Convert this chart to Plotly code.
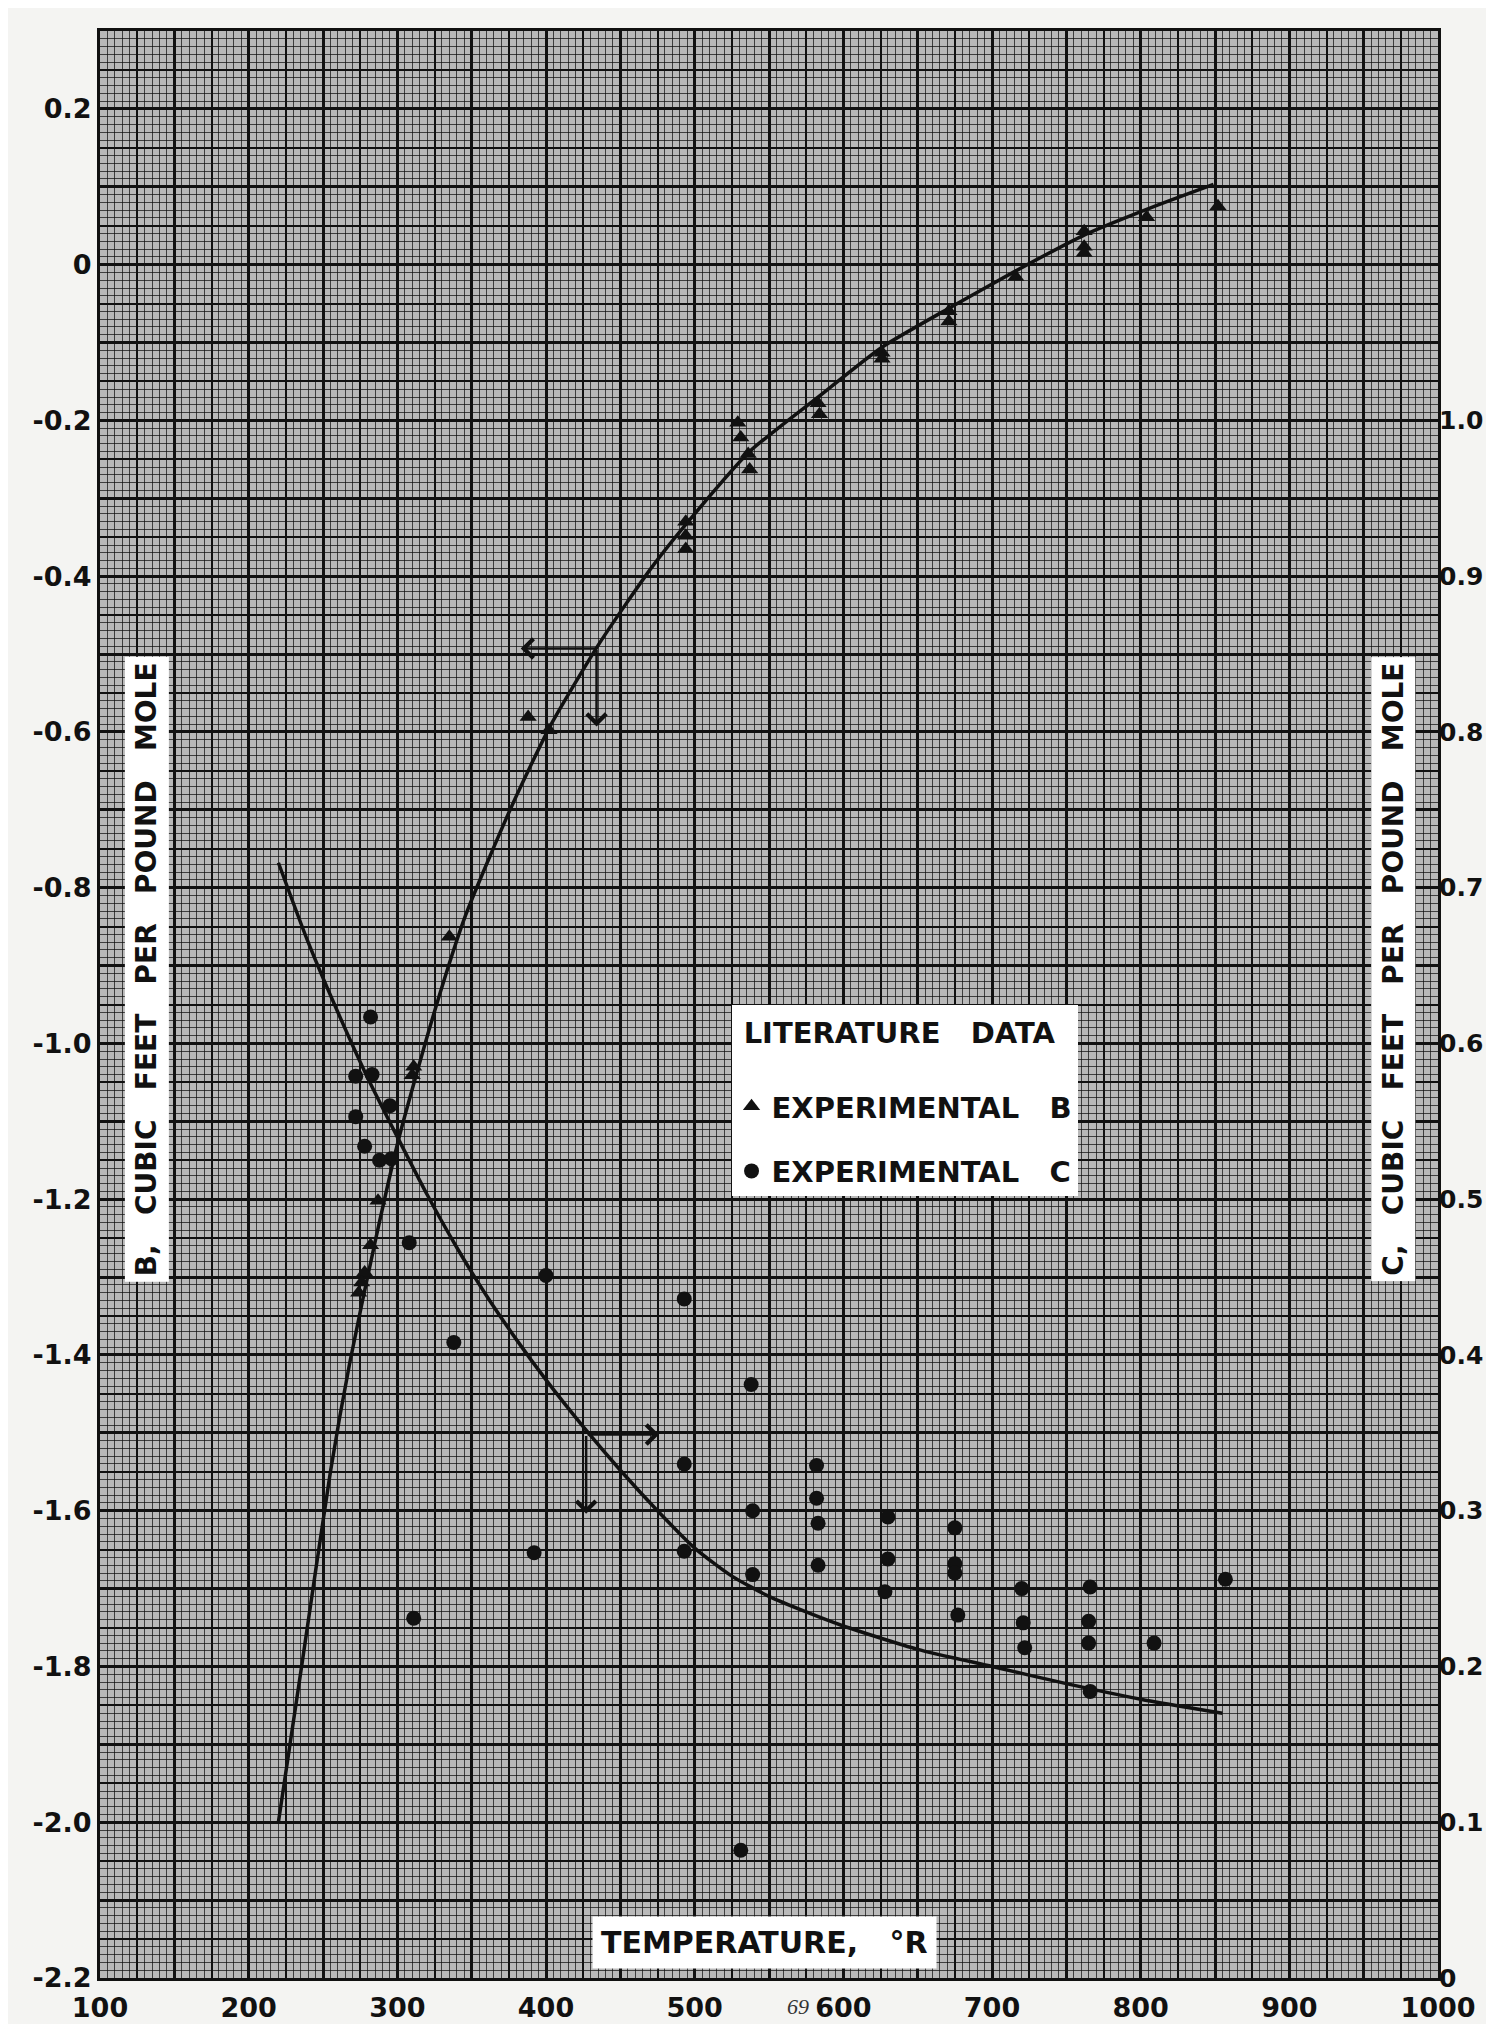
import plotly.graph_objects as go

# ---------------- data ----------------
T_LABELS = [100, 200, 300, 400, 500, 600, 700, 800, 900, 1000]
B_LABELS = [-2.2, -2.0, -1.8, -1.6, -1.4, -1.2, -1.0, -0.8, -0.6, -0.4, -0.2, 0.0, 0.2]
C_LABELS = [0.0, 0.1, 0.2, 0.3, 0.4, 0.5, 0.6, 0.7, 0.8, 0.9, 1.0]

# smoothed curve through B (left axis)
B_CURVE_T = [220, 236, 255, 268, 285, 301, 325, 346, 377, 403, 436, 471, 500,
             537, 583, 626, 671, 716, 762, 804, 849]
B_CURVE = [-2.00, -1.795, -1.55, -1.41, -1.255, -1.122, -0.959, -0.835, -0.695,
           -0.592, -0.486, -0.389, -0.320, -0.240, -0.170, -0.106, -0.056, -0.008,
           0.038, 0.071, 0.103]

# smoothed curve through C (right axis)
C_CURVE_T = [220, 240, 260, 280, 300, 320, 340, 360, 380, 400, 425, 450, 475, 500,
             525, 550, 575, 600, 650, 700, 750, 800, 855]
C_CURVE = [0.716, 0.665, 0.620, 0.578, 0.540, 0.503, 0.469, 0.438, 0.410, 0.384,
           0.354, 0.326, 0.300, 0.276, 0.258, 0.245, 0.235, 0.226, 0.211, 0.200,
           0.189, 0.179, 0.170]

# experimental B (triangles)
EXP_B_T = [852, 804, 762, 762, 762, 716, 671, 671, 626, 626, 583, 584, 529, 531,
           536, 537, 494, 494, 494, 388, 402, 335, 311, 310, 287, 282, 278, 276, 274]
EXP_B = [0.075, 0.061, 0.043, 0.023, 0.015, -0.016, -0.060, -0.073, -0.113, -0.121,
         -0.178, -0.192, -0.203, -0.222, -0.243, -0.263, -0.330, -0.348, -0.365,
         -0.581, -0.598, -0.863, -1.030, -1.041, -1.202, -1.259, -1.294, -1.307,
         -1.320]

# experimental C (dots)
EXP_C_T = [272, 283, 282, 295, 272, 278, 288, 296, 308, 338, 400, 311, 392, 493,
           493, 493, 531, 538, 539, 539, 582, 582, 583, 583, 630, 630, 628, 675,
           675, 675, 677, 720, 721, 722, 766, 765, 765, 766, 809, 857]
EXP_C = [0.579, 0.580, 0.617, 0.560, 0.553, 0.534, 0.525, 0.526, 0.472, 0.408,
         0.451, 0.231, 0.273, 0.436, 0.330, 0.274, 0.082, 0.381, 0.300, 0.259,
         0.329, 0.308, 0.292, 0.265, 0.296, 0.269, 0.248, 0.289, 0.266, 0.260,
         0.233, 0.250, 0.228, 0.212, 0.251, 0.229, 0.215, 0.184, 0.215, 0.256]

# ---------------- styling ----------------
FONT = "DejaVu Sans"
INK = "#111111"
FINE = "rgba(15,15,15,0.72)"
LBL = dict(size=27, color=INK, family=FONT, weight="bold")
RLBL = dict(size=25, color=INK, family=FONT, weight="bold")
TITLE = dict(size=28, color=INK, family=FONT, weight="bold")
NB = "\u00a0"

x_grid = list(range(100, 1001, 50))
x_text = [str(v) if v in T_LABELS else "" for v in x_grid]

y_grid = [round(-2.2 + 0.1 * i, 1) for i in range(26)]


def b_fmt(v):
    return "0" if abs(v) < 1e-9 else f"{v:.1f}"


b_set = {round(v, 1) for v in B_LABELS}
y_text = [b_fmt(v) if round(v, 1) in b_set else "" for v in y_grid]
c_text = ["0" if v == 0 else f"{v:.1f}" for v in C_LABELS]

fig = go.Figure()
fig.add_trace(go.Scatter(x=B_CURVE_T, y=B_CURVE, mode="lines",
                         line=dict(color=INK, width=3.5, shape="spline", smoothing=0.6),
                         showlegend=False, hoverinfo="skip"))
fig.add_trace(go.Scatter(x=C_CURVE_T, y=C_CURVE, mode="lines", yaxis="y2",
                         line=dict(color=INK, width=3.5, shape="spline", smoothing=0.6),
                         showlegend=False, hoverinfo="skip"))
fig.add_trace(go.Scatter(x=EXP_B_T, y=EXP_B, mode="markers",
                         marker=dict(symbol="triangle-up", size=15, color=INK),
                         name="EXPERIMENTAL" + NB * 3 + "B", legendgroup="b"))
fig.add_trace(go.Scatter(x=EXP_C_T, y=EXP_C, mode="markers", yaxis="y2",
                         marker=dict(symbol="circle", size=15, color=INK),
                         name="EXPERIMENTAL" + NB * 3 + "C", legendgroup="c"))
# carrier for the medium-weight vertical grid axis
fig.add_trace(go.Scatter(x=[None], y=[None], xaxis="x2", yaxis="y",
                         showlegend=False, hoverinfo="skip"))

fig.update_layout(
    template="none",
    width=1494, height=2024,
    margin=dict(l=92, r=64, t=23, b=54),
    paper_bgcolor="#f4f4f2",
    plot_bgcolor="#b9b9b9",
    font=dict(family=FONT, color=INK),
    xaxis=dict(range=[100, 1000], tickmode="array", tickvals=x_grid, ticktext=x_text,
               showgrid=True, gridcolor=INK, gridwidth=2.5,
               minor=dict(tickmode="linear", tick0=100, dtick=5, showgrid=True,
                          gridcolor=FINE, gridwidth=1, ticks=""),
               ticks="", showline=True, linecolor=INK, linewidth=3, mirror=True,
               zeroline=False, automargin=False, tickfont=LBL, ticklabelstandoff=4),
    xaxis2=dict(range=[100, 1000], overlaying="x", anchor="y", tickmode="linear",
                tick0=100, dtick=25, showgrid=True, gridcolor=INK, gridwidth=1.5,
                showticklabels=False, ticks="", zeroline=False, showline=False,
                automargin=False),
    yaxis=dict(range=[-2.2, 0.3], tickmode="array", tickvals=y_grid, ticktext=y_text,
               showgrid=True, gridcolor=INK, gridwidth=2.5,
               minor=dict(tickmode="linear", tick0=-2.2, dtick=0.01, showgrid=True,
                          gridcolor=FINE, gridwidth=1, ticks=""),
               ticks="", showline=True, linecolor=INK, linewidth=3, mirror=True,
               zeroline=False, automargin=False, tickfont=LBL),
    yaxis2=dict(range=[0, 1.25], overlaying="y", side="right", anchor="x",
                tickmode="array", tickvals=C_LABELS, ticktext=c_text,
                showgrid=False,
                minor=dict(tickmode="linear", tick0=0, dtick=0.025, showgrid=True,
                           gridcolor=INK, gridwidth=1.5, ticks=""),
                ticks="", zeroline=False, showline=False, automargin=False,
                tickfont=RLBL),
    legend=dict(x=0.472, y=0.4995, xanchor="left", yanchor="top",
                bgcolor="white", borderwidth=0,
                font=dict(size=29, color=INK, family=FONT, weight="bold"),
                title=dict(text=NB + "LITERATURE" + NB * 3 + "DATA<br>" + NB,
                           font=dict(size=29, color=INK, family=FONT, weight="bold")),
                tracegroupgap=24, itemwidth=30),
    showlegend=True,
)

gap = NB * 2 + " "
annotations = [
    dict(text="B," + gap + "CUBIC" + gap + "FEET" + gap + "PER" + gap + "POUND" + gap + "MOLE",
         xref="paper", yref="paper", x=0.035, y=0.518, xanchor="center", yanchor="middle",
         textangle=-90, showarrow=False, bgcolor="white", borderpad=5, font=TITLE),
    dict(text="C," + gap + "CUBIC" + gap + "FEET" + gap + "PER" + gap + "POUND" + gap + "MOLE",
         xref="paper", yref="paper", x=0.9665, y=0.518, xanchor="center", yanchor="middle",
         textangle=-90, showarrow=False, bgcolor="white", borderpad=5, font=TITLE),
    dict(text="TEMPERATURE," + NB * 2 + " \u00b0R", xref="paper", yref="paper",
         x=0.497, y=0.018, xanchor="center", yanchor="middle",
         showarrow=False, bgcolor="white", borderpad=8,
         font=dict(size=30, color=INK, family=FONT, weight="bold")),
    dict(text="<i>69</i>", xref="paper", yref="paper", x=0.522, y=-0.0145,
         xanchor="center", yanchor="middle",
         showarrow=False, font=dict(size=22, color="#333", family="Liberation Serif")),
    # arrows: B curve -> left axis
    dict(x=383, y=-0.493, ax=434, ay=-0.493, xref="x", yref="y", axref="x", ayref="y",
         showarrow=True, arrowhead=4, arrowsize=1.5, arrowwidth=2.5, arrowcolor=INK, text=""),
    dict(x=434, y=-0.593, ax=434, ay=-0.493, xref="x", yref="y", axref="x", ayref="y",
         showarrow=True, arrowhead=4, arrowsize=1.5, arrowwidth=2.5, arrowcolor=INK, text=""),
    # arrows: C curve -> right axis
    dict(x=476, y=0.349, ax=427, ay=0.349, xref="x", yref="y2", axref="x", ayref="y2",
         showarrow=True, arrowhead=4, arrowsize=1.5, arrowwidth=2.5, arrowcolor=INK, text=""),
    dict(x=427, y=0.298, ax=427, ay=0.349, xref="x", yref="y2", axref="x", ayref="y2",
         showarrow=True, arrowhead=4, arrowsize=1.5, arrowwidth=2.5, arrowcolor=INK, text=""),
]
fig.update_layout(annotations=annotations)

fig.write_html("out.html")
